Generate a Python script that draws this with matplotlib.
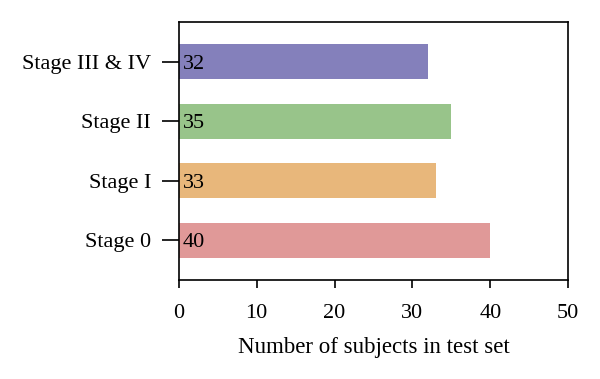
import numpy as np
import matplotlib.pyplot as plt

stages = ['Stage 0', 'Stage I', 'Stage II', 'Stage III & IV']
counts = [40, 33, 35, 32]
colors = ['#E09998', '#E8B77B', '#98C48A', '#8480BB']

plt.rcParams['font.family'] = ['Liberation Serif', 'DejaVu Serif']

fig = plt.figure(figsize=(6, 3.79), dpi=100)
ax = fig.add_axes([0.298, 0.261, 0.649, 0.681])

y = np.arange(len(stages))
ax.barh(y, counts, height=0.59, color=colors)
for yi, c in zip(y, counts):
    ax.text(0.5, yi, str(c), va='center_baseline', ha='left', fontsize=16)

ax.set_xlim(0, 50)
ax.set_ylim(-0.67, 3.67)
ax.set_xticks([0, 10, 20, 30, 40, 50])
ax.set_yticks(y)
ax.set_yticklabels(stages)
ax.tick_params(axis='both', labelsize=16, width=1.2, color='black')
ax.tick_params(axis='y', length=12, pad=8)
ax.tick_params(axis='x', length=6, pad=11)
for s in ax.spines.values():
    s.set_linewidth(1.2)
ax.set_xlabel('Number of subjects in test set', fontsize=16.5, labelpad=10)

fig.savefig('out.png', dpi=100)
